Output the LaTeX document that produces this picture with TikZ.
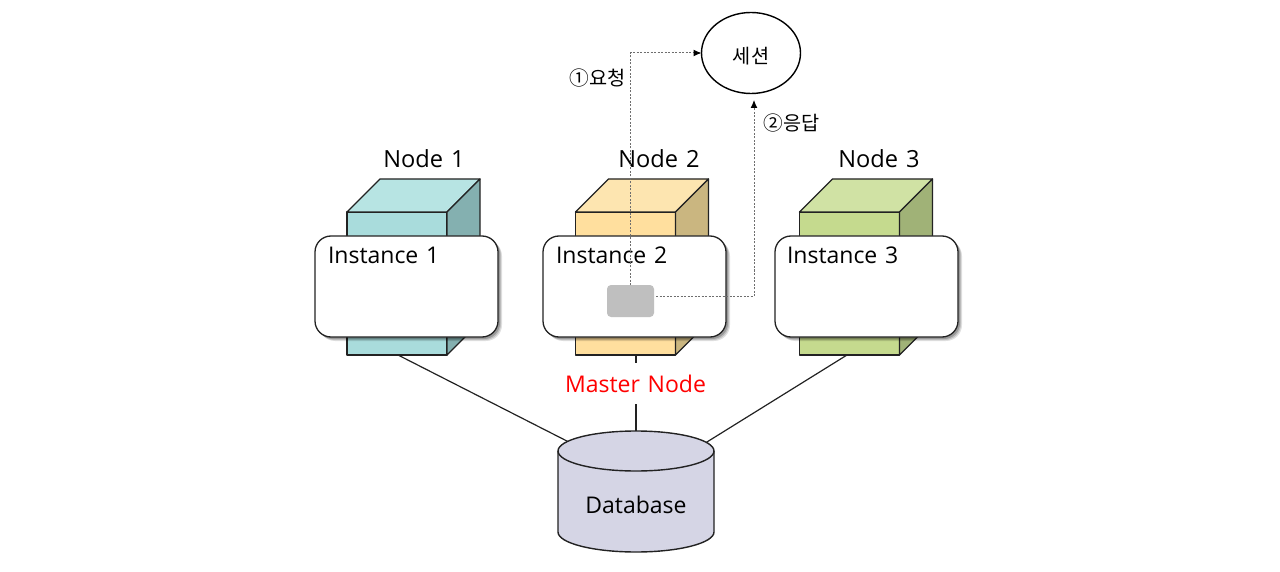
\documentclass[tikz,border=0pt]{standalone}
\usepackage{fontspec}
\setmainfont[WordSpace=1.3]{Open Sans}
\newfontfamily\kr{Noto Sans CJK KR}
\usetikzlibrary{shadows,shapes.geometric,arrows.meta,backgrounds}
\definecolor{frontA}{HTML}{A9DCDC}\definecolor{topA}{HTML}{B7E4E3}\definecolor{sideA}{HTML}{84B0B0}
\definecolor{frontB}{HTML}{FFDF9E}\definecolor{topB}{HTML}{FDE5B0}\definecolor{sideB}{HTML}{CAB680}
\definecolor{frontC}{HTML}{C5DA8E}\definecolor{topC}{HTML}{D0E2A4}\definecolor{sideC}{HTML}{A0B277}
\definecolor{dbfill}{HTML}{D5D5E5}
\definecolor{edge}{HTML}{222222}
\definecolor{dash}{HTML}{6E6E6E}
\tikzset{
  x=1pt,y=-1pt,
  every node/.style={inner sep=0pt,outer sep=0pt},
  face/.style={draw=edge,line width=1.3pt,line join=round},
  front/.style={face,anchor=north west,minimum width=100pt,minimum height=143pt},
  inst/.style={draw=edge,line width=1.3pt,fill=white,rounded corners=16pt,anchor=north west,minimum width=183pt,minimum height=101pt,
    drop shadow={shadow xshift=4pt,shadow yshift=-4pt,fill=black,opacity=.12},
    drop shadow={shadow xshift=3pt,shadow yshift=-3pt,fill=black,opacity=.15},
    drop shadow={shadow xshift=2pt,shadow yshift=-2pt,fill=black,opacity=.2}},
  lbl/.style={font=\fontsize{23}{26}\selectfont,text=black},
  nodelbl/.style={font=\fontsize{23.6}{26}\selectfont,text=black},
  krlbl/.style={font=\kr\fontsize{19.7}{22}\selectfont,text=black},
  conn/.style={draw=edge,line width=1.2pt},
  req/.style={draw=dash,line width=1pt,dash pattern=on 2pt off 1.5pt,-{Latex[length=8pt,width=7pt,color=black]}}
}
\newcommand{\cube}[5]{% name x front top side
  \node[front,fill=#3] (#1) at (#2,212) {};
  \draw[face,fill=#4] (#1.north west) -- ++(33,-33) -- ++(100,0) -- ++(-33,33) -- cycle;
  \draw[face,fill=#5] (#1.north east) -- ++(33,-33) -- ++(0,143) -- (#1.south east) -- cycle;
}
\begin{document}
\begin{tikzpicture}
\useasboundingbox (0,0) rectangle (1280,572);
\cube{cubeA}{347}{frontA}{topA}{sideA}
\cube{cubeB}{575.5}{frontB}{topB}{sideB}
\cube{cubeC}{799.5}{frontC}{topC}{sideC}
\node[nodelbl] (nodeA) at (424,158.5) {Node 1};
\node[nodelbl] (nodeB) at (659,158.5) {Node 2};
\node[nodelbl] (nodeC) at (879,158.5) {Node 3};
\node[inst] (instA) at (315,236) {};
\node[inst] (instB) at (543,236) {};
\node[inst] (instC) at (775,236) {};
\node[lbl,anchor=west] (tA) at (328,255.5) {Instance 1};
\node[lbl,anchor=west] (tB) at (556,255.5) {Instance 2};
\node[lbl,anchor=west] (tC) at (787,255.5) {Instance 3};
\node[fill=black!25,rounded corners=4pt,minimum width=47pt,minimum height=32pt] (proc) at (630.5,301) {};
\node[draw=black,line width=1.4pt,fill=white,ellipse,minimum width=99pt,minimum height=81pt] (sess) at (751,53) {};
\node[krlbl] at (751,56) (sessT) {세션};
\node[krlbl,anchor=east] (reqT) at (625.5,78) {①요청};
\node[krlbl,anchor=west] (resT) at (763.5,123) {②응답};
% database
\draw[face,fill=dbfill,line width=1.4pt] (558,451) -- (558,532) arc[x radius=78,y radius=20,start angle=180,end angle=0] -- (714,451);
\node[draw=edge,line width=1.4pt,fill=dbfill,ellipse,minimum width=156pt,minimum height=40pt] (dbtop) at (636,451) {};
\node[lbl] (dbT) at (636,504.5) {Database};
\node[lbl,text=red,fill=white,minimum height=41pt] (master) at (635.5,383.5) {Master Node};
\coordinate (resS) at (656,296);
\coordinate (resE) at (754,100);
\begin{scope}[on background layer]
\draw[conn] (398,355) -- (dbtop.172);
\draw[conn] (636,355) -- (dbtop.north);
\draw[conn] (847,355) -- (dbtop.7);
\end{scope}
\draw[req] (proc.north) -- (proc.north |- sess.west) -- (sess.west);
\draw[req] (resS) -| (resE);
\end{tikzpicture}
\end{document}
